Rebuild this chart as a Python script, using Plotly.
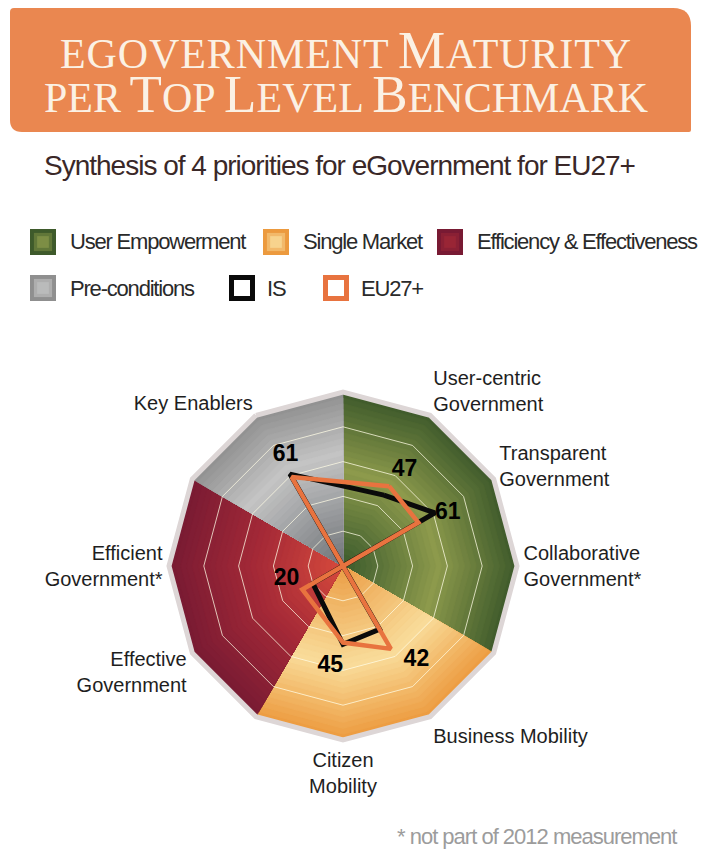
import plotly.graph_objects as go

W, H = 702, 866

# ---------------- data ----------------
axis_categories = [
    "\u200b",
    "User-centric<br>Government",
    "Transparent<br>Government",
    "Collaborative<br>Government*",
    "\u200b\u200b",
    "Business Mobility",
    "Citizen<br>Mobility",
    "\u200b\u200b\u200b",
    "Effective<br>Government",
    "Efficient<br>Government*",
    "\u200b\u200b\u200b\u200b",
    "Key Enablers",
]
benchmarks = [
    "User-centric<br>Government",
    "Transparent<br>Government",
    "Collaborative<br>Government*",
    "Business Mobility",
    "Citizen<br>Mobility",
    "Effective<br>Government",
    "Efficient<br>Government*",
    "Key Enablers",
]
is_values = [47, 61, 0, 42, 45, 20, 0, 61]
eu_values = [53, 50, 0, 55, 44, 27, 0, 59]

# label placement (style only)
label_positions = ["top right", "middle right", None, "bottom right",
                   "bottom left", "top left", None, "top center"]
label_shift = [9, 0, 0, 13, 6, 9, 0, 5]
label_pad = ["", "", "", "\u00a0\u00a0", "", "", "", ""]

priority_names = ["User Empowerment", "Single Market",
                  "Efficiency & Effectiveness", "Pre-conditions"]
priority_start = [0, 4, 7, 10]      # index in axis_categories
priority_end = [4, 7, 10, 12]
priority_stops = [
    [(0.0, "#3b5a2c"), (0.55, "#8d9a4c"), (1.0, "#3e5a2b")],
    [(0.0, "#eb9d45"), (0.58, "#f9dc9a"), (1.0, "#ec9a3e")],
    [(0.0, "#d6493c"), (0.5, "#a52a37"), (1.0, "#781a33")],
    [(0.0, "#6f7378"), (0.65, "#c4c4c4"), (1.0, "#8f8f8f")],
]
grid_levels = [20, 40, 60, 80]

FONT_N = "Liberation Sans, Arial, sans-serif"


def narrow(s, ls=-1.0):
    return f"<span style='letter-spacing:{ls}px'>{s}</span>"


def hex2rgb(h):
    h = h.lstrip("#")
    return [int(h[i:i + 2], 16) for i in (0, 2, 4)]


def color_at(stops, t):
    for (t0, c0), (t1, c1) in zip(stops[:-1], stops[1:]):
        if t0 <= t <= t1:
            f = (t - t0) / (t1 - t0)
            a, b = hex2rgb(c0), hex2rgb(c1)
            return "rgb(%d,%d,%d)" % tuple(round(a[i] + (b[i] - a[i]) * f) for i in range(3))
    return stops[-1][1]


fig = go.Figure()

# gradient sectors (painter's algorithm: big wedge first, smaller on top)
NB = 30
for k in range(4):
    idx = list(range(priority_start[k], priority_end[k] + 1))
    cats = [axis_categories[i % 12] for i in idx]
    for j in range(NB, 0, -1):
        R = 100.0 * j / NB
        t = (j - 0.5) / NB
        col = color_at(priority_stops[k], t)
        fig.add_trace(go.Scatterpolar(
            theta=[cats[0]] + cats + [cats[-1]],
            r=[0] + [R] * len(cats) + [0],
            mode="lines", fill="toself", fillcolor=col,
            line=dict(width=0.6, color=col),
            hoverinfo="skip", showlegend=False))

# grid rings
for lv in grid_levels:
    fig.add_trace(go.Scatterpolar(
        theta=axis_categories + [axis_categories[0]],
        r=[lv] * 13, mode="lines",
        line=dict(color="rgba(255,252,230,0.75)", width=1),
        hoverinfo="skip", showlegend=False))

# series
fig.add_trace(go.Scatterpolar(
    theta=benchmarks + [benchmarks[0]], r=is_values + [is_values[0]],
    mode="lines", name="IS", line=dict(color="#0a0a0a", width=5),
    showlegend=False))
fig.add_trace(go.Scatterpolar(
    theta=benchmarks + [benchmarks[0]], r=eu_values + [eu_values[0]],
    mode="lines", name="EU27+", line=dict(color="#e8733f", width=4.5),
    showlegend=False))

# value labels for IS
lab_t, lab_r, lab_s, lab_p = [], [], [], []
for b, v, p, s, pad in zip(benchmarks, is_values, label_positions, label_shift, label_pad):
    if p is not None:
        lab_t.append(b); lab_r.append(v + s); lab_s.append(pad + str(v)); lab_p.append(p)
fig.add_trace(go.Scatterpolar(
    theta=lab_t, r=lab_r, text=lab_s, mode="text", textposition=lab_p,
    textfont=dict(family="Liberation Sans, Arial, sans-serif", size=23,
                  color="#000", weight="bold"),
    hoverinfo="skip", showlegend=False))

cx, cy, rad = 343, 566, 174
fig.update_layout(
    width=W, height=H, margin=dict(l=0, r=0, t=0, b=0),
    paper_bgcolor="white", plot_bgcolor="white",
    polar=dict(
        domain=dict(x=[(cx - rad) / W, (cx + rad) / W],
                    y=[1 - (cy + rad) / H, 1 - (cy - rad) / H]),
        gridshape="linear", bgcolor="white",
        angularaxis=dict(type="category", categoryorder="array",
                         categoryarray=axis_categories,
                         rotation=90, direction="clockwise",
                         showgrid=False, showline=True,
                         linecolor="#ddd6d6", linewidth=5,
                         ticks="",
                         tickfont=dict(family=FONT_N, size=20, color="#1e1e1e")),
        radialaxis=dict(range=[0, 100], visible=False),
    ),
)


def px(x):
    return x / W


def py(y):
    return 1 - y / H


# banner
x0, x1, y0, y1 = 10, 691, 8, 132
rtl, rtr, rbr, rbl = 4, 18, 2, 12
path = (f"M {px(x0 + rtl)} {py(y0)} L {px(x1 - rtr)} {py(y0)} "
        f"Q {px(x1)} {py(y0)} {px(x1)} {py(y0 + rtr)} "
        f"L {px(x1)} {py(y1 - rbr)} Q {px(x1)} {py(y1)} {px(x1 - rbr)} {py(y1)} "
        f"L {px(x0 + rbl)} {py(y1)} Q {px(x0)} {py(y1)} {px(x0)} {py(y1 - rbl)} "
        f"L {px(x0)} {py(y0 + rtl)} Q {px(x0)} {py(y0)} {px(x0 + rtl)} {py(y0)} Z")
fig.add_shape(type="path", path=path, xref="paper", yref="paper",
              fillcolor="#ea8750", line=dict(width=0), layer="below")


def smallcaps(words, big=53, small=42, ls=0):
    out = []
    for w in words:
        first, rest = w[0], w[1:]
        fs = big if first.isupper() else small
        out.append(f"<span style='font-size:{fs}px;letter-spacing:{ls}px'>{first.upper()}</span>"
                   f"<span style='font-size:{small}px;letter-spacing:{ls}px'>{rest.upper()}</span>")
    return " ".join(out)


SERIF = "Liberation Serif, DejaVu Serif, serif"
fig.add_annotation(x=px(346), y=py(72), xref="paper", yref="paper",
                   text=smallcaps(["eGovernment", "Maturity"], ls=0.9) + "<br>"
                   + smallcaps(["per", "Top", "Level", "Benchmark"]),
                   showarrow=False, align="center",
                   font=dict(family=SERIF, size=34, color="#fbf1e4"),
                   xanchor="center", yanchor="middle")

# subtitle
fig.add_annotation(x=px(42), y=py(166), xref="paper", yref="paper",
                   text=narrow("Synthesis of 4 priorities for eGovernment for EU27+", -1.0),
                   showarrow=False, xanchor="left", yanchor="middle",
                   font=dict(family=FONT_N, size=28, color="#3a2828"))

# legend (manual)
leg_items = [
    (priority_names[0], 0, 30, 242),
    (priority_names[1], 1, 263, 242),
    (priority_names[2], 2, 437, 242),
    (priority_names[3], 3, 30, 288),
]
S = 26
for name, k, lx, ly in leg_items:
    st = priority_stops[k]
    outer = color_at(st, 1.0)
    fig.add_shape(type="rect", xref="paper", yref="paper",
                  x0=px(lx), x1=px(lx + S), y0=py(ly - S / 2), y1=py(ly + S / 2),
                  fillcolor=outer, line=dict(width=0))
    for f, t in [(0.3, 0.75), (0.55, 0.6)]:
        d = S * f / 2
        fig.add_shape(type="rect", xref="paper", yref="paper",
                      x0=px(lx + d), x1=px(lx + S - d),
                      y0=py(ly - S / 2 + d), y1=py(ly + S / 2 - d),
                      fillcolor=color_at(st, t), line=dict(width=0), opacity=0.8)
    fig.add_annotation(x=px(lx + S + 12), y=py(ly), xref="paper", yref="paper",
                       text=narrow(name, -1.2), showarrow=False,
                       xanchor="left", yanchor="middle",
                       font=dict(family=FONT_N, size=22, color="#2a2a2a"))

for name, col, lx, ly in [("IS", "#0a0a0a", 229, 288), ("EU27+", "#e8733f", 323, 288)]:
    fig.add_shape(type="rect", xref="paper", yref="paper",
                  x0=px(lx + 2.5), x1=px(lx + S - 2.5),
                  y0=py(ly - S / 2 + 2.5), y1=py(ly + S / 2 - 2.5),
                  fillcolor="white", line=dict(width=5, color=col))
    fig.add_annotation(x=px(lx + S + 10), y=py(ly), xref="paper", yref="paper",
                       text=narrow(name, -1.2), showarrow=False,
                       xanchor="left", yanchor="middle",
                       font=dict(family=FONT_N, size=22, color="#2a2a2a"))

# footnote
fig.add_annotation(x=px(679), y=py(836), xref="paper", yref="paper",
                   text=narrow("* not part of 2012 measurement", -1.0), showarrow=False,
                   xanchor="right", yanchor="middle",
                   font=dict(family=FONT_N, size=22, color="#9c9c9c"))

fig.write_html("out.html")
